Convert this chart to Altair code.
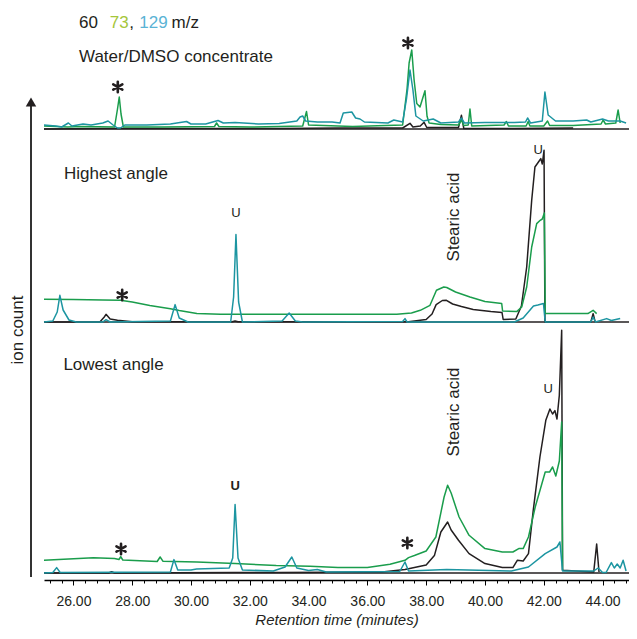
import altair as alt
import pandas as pd

# ---------------- data (heights above each panel's baseline) ----------------
TOP_BLACK_T = [25.0, 27.0, 30.0, 33.0, 35.0, 37.2, 37.45, 37.55, 37.8, 37.93, 38.02, 39.1, 39.2, 39.28, 41.0, 43.0, 45.0]
TOP_BLACK_V = [0, 0.5, 0.5, 0.5, 1, 1, 5.7, 2, 3, 6.7, 1.5, 1.5, 13.7, 0.5, 0.5, 1, 1.5]

TOP_GREEN_T = [25.0, 25.8, 26.3, 27.4, 27.5, 27.56, 27.62, 27.7, 29.0, 30.8, 30.87, 30.95, 32.0, 33.8, 33.93, 34.0,
               34.5, 35.5, 37.2, 37.35, 37.42, 37.51, 37.59, 37.68, 37.79, 37.96, 38.03, 38.1, 38.5, 39.1, 39.2, 39.28,
               39.43, 39.49, 39.55, 40.65, 40.73, 40.8, 41.4, 41.47, 41.53, 42.0, 42.13, 42.2, 43.0, 43.95, 44.02,
               44.1, 44.45, 44.53, 44.6, 45.0]
TOP_GREEN_V = [3, 2, 2.5, 2, 20, 32, 15, 2, 2, 2.5, 6, 2.5, 2, 3, 17.5, 4,
               3.5, 2.5, 4, 40, 66, 79, 49, 25.5, 22, 38.3, 12.7, 6, 4.5, 4, 9, 3.5,
               4, 20, 3, 4, 7.5, 3, 3, 7.5, 3, 3, 8, 3.5, 3.5, 5, 9,
               5, 6, 19, 6, 6]

TOP_TEAL_T = [25.0, 25.4, 25.6, 25.83, 25.95, 26.33, 26.6, 27.0, 27.18, 27.35, 27.5, 27.6, 27.75, 28.5, 29.3, 29.85,
              30.0, 30.5, 30.92, 31.1, 31.5, 32.3, 33.0, 33.6, 33.71, 33.8, 33.9, 34.3, 34.8, 35.07, 35.18, 35.47,
              35.6, 35.75, 35.9, 36.7, 36.9, 37.2, 37.33, 37.45, 37.55, 37.65, 37.9, 38.24, 38.5, 39.1, 39.2, 39.3,
              40.0, 41.0, 41.38, 41.45, 41.55, 41.95, 42.04, 42.15, 42.4, 43.0, 43.46, 43.6, 44.0, 44.2, 44.6, 44.8,
              45.0]
TOP_TEAL_V = [4, 3, 2, 6, 3, 5, 4, 6, 8, 4, 1, 1, 4, 4, 5, 7.5,
              5, 5, 8.5, 6, 6.5, 5, 5.5, 8, 12, 13, 8, 7, 7, 6, 16, 17,
              11, 10, 7, 6, 9, 7, 30, 59, 39, 13, 8, 10, 6, 7, 11, 6,
              6.5, 6.5, 7, 11, 6, 8, 37, 14, 8, 8, 9, 7, 10, 8, 8, 6,
              15]

MID_BLACK_T = [25.0, 26.9, 27.05, 27.11, 27.25, 27.5, 28.0, 31.4, 31.5, 31.6, 37.4, 37.6, 38.0, 38.2, 38.34, 38.55,
               38.69, 38.9, 39.2, 39.6, 40.2, 40.58, 40.62, 41.05, 41.24, 41.42, 41.59, 41.7, 41.82, 41.9, 41.95,
               42.01, 42.04, 43.6, 43.68, 43.75, 45.0]
MID_BLACK_V = [0, 0, 5, 7.7, 3, 1.7, 0.3, 0.3, 1, 0.3, 0.3, 1, 2.5, 8, 17.4, 21.5,
               21.7, 18, 15.5, 12.5, 10.5, 9.5, 2.5, 3, 16, 55, 121.7, 155, 160, 163.4, 158,
               171.7, 0, 0, 8.4, 0, 0]

MID_GREEN_T = [25.0, 26.0, 27.0, 27.6, 28.0, 28.6, 29.3, 29.6, 30.2, 31.0, 37.0, 37.5, 37.8, 38.13, 38.35, 38.6,
               38.7, 39.0, 39.49, 40.0, 40.57, 40.6, 41.08, 41.25, 41.42, 41.59, 41.76, 41.88, 41.95, 42.02, 42.05,
               43.5, 43.68, 43.8, 45.0]
MID_GREEN_V = [22.7, 22.5, 22, 21.7, 20, 16.5, 13.3, 11.5, 8.4, 7.7, 7.7, 9, 11.7, 16.7, 31.7, 35,
               34.5, 30, 25, 20.5, 18.4, 11, 10.4, 15, 35, 75, 98.4, 101.7, 103, 109, 8.4,
               8.4, 11.7, 8.4, 8.4]

MID_TEAL_T = [25.0, 25.3, 25.45, 25.54, 25.65, 25.85, 26.1, 27.0, 27.11, 27.25, 29.3, 29.46, 29.6, 29.9, 31.35,
              31.45, 31.53, 31.62, 31.75, 33.1, 33.34, 33.55, 33.8, 37.2, 37.28, 37.35, 41.0, 41.3, 41.65, 41.8,
              41.99, 42.05, 43.6, 43.68, 43.76, 44.14, 44.3, 44.6, 45.0]
MID_TEAL_V = [0, 1, 10, 26.7, 12, 2, 0, 0, 2.3, 0, 1, 17.4, 4, 0, 0,
              25, 87.4, 20, 0, 1, 9, 1, 0, 0.5, 3.4, 0, 0, 4, 16, 17,
              18.4, 0, 0, 5, 0, 3.4, 1.5, 3.4, 0]

BOT_BLACK_T = [25.0, 27.2, 27.3, 27.4, 31.5, 33.0, 36.5, 37.28, 37.6, 38.0, 38.28, 38.5, 38.73, 38.85, 39.1, 39.46,
               40.0, 40.59, 40.95, 41.1, 41.3, 41.48, 41.64, 41.87, 42.07, 42.21, 42.3, 42.38, 42.45, 42.53, 42.61,
               42.64, 43.7, 43.8, 43.88, 45.0]
BOT_BLACK_V = [0, 0, 1.3, 0, 0.5, 0.5, 1, 3.4, 5.5, 8, 17.4, 41, 51, 43, 32.7, 19.4,
               9.4, 5.4, 5.4, 12.7, 12, 19.4, 62, 116, 152.7, 164, 159, 162.4, 154, 177.7, 242.7,
               2.7, 1, 29, 1, 0]

BOT_GREEN_T = [25.0, 26.68, 27.4, 27.55, 27.61, 27.68, 28.85, 28.95, 29.05, 30.2, 31.5, 32.9, 34.05, 35.0, 36.0,
               36.77, 37.28, 37.4, 37.6, 38.0, 38.33, 38.61, 38.73, 38.85, 39.12, 39.46, 40.0, 40.59, 40.95, 41.15,
               41.3, 41.48, 41.71, 42.05, 42.2, 42.3, 42.41, 42.53, 42.61, 42.64, 45.0]
BOT_GREEN_V = [12.7, 15.3, 14.5, 13.5, 16.4, 13, 11.5, 16, 11.7, 11, 9.4, 7.5, 6.7, 5.4, 5.5,
               8.7, 12.7, 15.4, 17.5, 22, 36, 76, 87.7, 80, 56, 37.7, 24.4, 21, 21, 24.4,
               24.4, 36, 66, 101, 101, 106, 97, 112, 151, 2.7, 3.4]

BOT_TEAL_T = [25.0, 25.3, 25.43, 25.55, 29.3, 29.42, 29.55, 30.0, 30.19, 31.3, 31.42, 31.5, 31.6, 31.75, 32.8, 33.2,
              33.43, 33.6, 34.0, 34.3, 34.6, 37.1, 37.28, 37.4, 38.7, 40.9, 41.48, 42.05, 42.45, 42.55, 42.64,
              43.7, 43.85, 44.0, 44.12, 44.3, 44.4, 44.5, 44.6, 44.7, 44.8, 45.0]
BOT_TEAL_V = [0, 0.5, 5.4, 0.5, 1, 13.4, 3, 3, 4, 5, 15, 68.4, 15, 3, 2, 6,
              16, 5, 2.5, 3.5, 1, 1.5, 11, 2, 3.4, 2, 6, 19.4, 26, 31, 2,
              2, 5, 0.5, 0.5, 10.4, 5, 9, 5, 12.7, 2, 2]

PANEL_OFFSET = {"top": 451, "mid": 258, "bot": 7}

BLACK = "#231f20"
GREEN = "#1a9d4c"
TEAL = "#1c95a1"

X_MIN, X_MAX = 25.0, 44.9

# ---------------- build tables ----------------
def trace(ts, vs, panel, series):
    rows = [(t, v) for t, v in zip(ts, vs) if t <= X_MAX]
    return pd.DataFrame({"t": [r[0] for r in rows], "y": [r[1] + PANEL_OFFSET[panel] for r in rows],
                         "key": panel + "_" + series, "series": series})

traces = pd.concat([
    trace(TOP_BLACK_T, TOP_BLACK_V, "top", "60"),
    trace(MID_BLACK_T, MID_BLACK_V, "mid", "60"),
    trace(BOT_BLACK_T, BOT_BLACK_V, "bot", "60"),
    trace(TOP_GREEN_T, TOP_GREEN_V, "top", "73"),
    trace(MID_GREEN_T, MID_GREEN_V, "mid", "73"),
    trace(BOT_GREEN_T, BOT_GREEN_V, "bot", "73"),
    trace(TOP_TEAL_T, TOP_TEAL_V, "top", "129"),
    trace(MID_TEAL_T, MID_TEAL_V, "mid", "129"),
    trace(BOT_TEAL_T, BOT_TEAL_V, "bot", "129"),
], ignore_index=True)

baselines = pd.DataFrame({"t": [X_MIN, X_MAX] * 3,
                          "y": [PANEL_OFFSET["top"]] * 2 + [PANEL_OFFSET["mid"]] * 2 + [PANEL_OFFSET["bot"]] * 2,
                          "key": ["top", "top", "mid", "mid", "bot", "bot"]})

STAR_T = [27.51, 37.38, 27.66, 27.62, 37.36]
STAR_Y = [493, 537, 285, 31, 37]

U_T = [31.53, 41.81, 31.5, 42.15]
U_Y = [367, 430, 94, 191]
U_W = ["normal", "normal", "bold", "normal"]

SA_T = [38.95, 38.96]
SA_Y = [363, 168]

PANEL_LABELS = ["Water/DMSO concentrate", "Highest angle", "Lowest angle"]
PANEL_LABEL_T = [26.19, 25.68, 25.66]
PANEL_LABEL_Y = [523, 406, 215]

LEG_TEXT = ["60", "73", ",", "129", "m/z"]
LEG_T = [26.19, 27.24, 27.9, 28.24, 29.34]
LEG_COLOR = [BLACK, "#a5c63b", BLACK, "#5ab3d5", BLACK]
LEG_Y = 557

TICKS = [round(25.2 + 0.4 * k, 1) for k in range(50)]
MAJOR = "abs(datum.value - 2*round(datum.value/2)) < 0.01"

FONT = "Liberation Sans"

xenc = alt.X("t:Q", scale=alt.Scale(domain=[X_MIN, X_MAX], nice=False, zero=False),
             axis=alt.Axis(values=TICKS, labelExpr=f"{MAJOR} ? format(datum.value, '.2f') : ''",
                           tickSize={"condition": {"test": MAJOR, "value": 5}, "value": 3},
                           labelOverlap=False, labelFlush=False, grid=False,
                           domainColor="#000000", domainWidth=1.6, tickColor="#000000", tickWidth=1,
                           labelFont=FONT, labelFontSize=14, labelColor=BLACK, labelPadding=9,
                           titleFont=FONT, titleFontSize=15, titleFontStyle="italic", titleFontWeight="normal",
                           titleColor=BLACK, titlePadding=4),
             title="Retention time (minutes)")
yenc = alt.Y("y:Q", scale=alt.Scale(domain=[0, 572], nice=False, zero=False), axis=None)

base_lines = alt.Chart(baselines).mark_line(color=BLACK, strokeWidth=1.3).encode(x=xenc, y=yenc, detail="key:N")

def series_layer(s, col):
    return alt.Chart(traces[traces.series == s]).mark_line(color=col, strokeWidth=1.5, strokeJoin="round").encode(
        x=xenc, y=yenc, detail="key:N", order="t:Q")

lines = [series_layer("60", BLACK), series_layer("73", GREEN), series_layer("129", TEAL)]

ASTERISK = "M0,-1L0,1M-0.87,-0.5L0.87,0.5M-0.87,0.5L0.87,-0.5"
stars = alt.Chart(pd.DataFrame({"t": STAR_T, "y": STAR_Y})).mark_point(
    shape=ASTERISK, size=110, stroke=BLACK, strokeWidth=2.6, filled=False, opacity=1, strokeCap="round").encode(
    x=xenc, y=yenc)

u_df = pd.DataFrame({"t": U_T, "y": U_Y, "w": U_W})
u_norm = alt.Chart(u_df[u_df.w == "normal"]).mark_text(font=FONT, fontSize=13, color=BLACK, baseline="middle").encode(
    x=xenc, y=yenc, text=alt.value("U"))
u_bold = alt.Chart(u_df[u_df.w == "bold"]).mark_text(font=FONT, fontSize=13, fontWeight="bold", color=BLACK,
                                                      baseline="middle").encode(x=xenc, y=yenc, text=alt.value("U"))

stearic = alt.Chart(pd.DataFrame({"t": SA_T, "y": SA_Y})).mark_text(
    font=FONT, fontSize=17, color=BLACK, angle=270, baseline="middle", align="center").encode(
    x=xenc, y=yenc, text=alt.value("Stearic acid"))

panel_txt = alt.Chart(pd.DataFrame({"t": PANEL_LABEL_T, "y": PANEL_LABEL_Y, "label": PANEL_LABELS})).mark_text(
    font=FONT, fontSize=17, color=BLACK, align="left", baseline="middle").encode(x=xenc, y=yenc, text="label:N")

legend_txt = alt.Chart(pd.DataFrame({"t": LEG_T, "y": [LEG_Y] * 5, "label": LEG_TEXT, "c": LEG_COLOR})).mark_text(
    font=FONT, fontSize=17, align="left", baseline="middle").encode(
    x=xenc, y=yenc, text="label:N", color=alt.Color("c:N", scale=None))

one = pd.DataFrame({"a": [0]})
arrow_shaft = alt.Chart(one).mark_rule(color="#333333", strokeWidth=2).encode(
    x=alt.value(-13), y=alt.value(96), y2=alt.value(569))
arrow_head = alt.Chart(one).mark_point(shape="triangle-up", filled=True, color="#231f20", size=110, opacity=1).encode(
    x=alt.value(-13), y=alt.value(94))
ion_label = alt.Chart(one).mark_text(font=FONT, fontSize=17, color=BLACK, angle=270, align="center",
                                     baseline="middle").encode(
    x=alt.value(-26), y=alt.value(322), text=alt.value("ion count"))

chart = alt.layer(
    base_lines, *lines, stars, u_norm, u_bold, stearic, panel_txt, legend_txt, arrow_shaft, arrow_head, ion_label
).properties(
    width=585, height=572,
    background="white",
    autosize=alt.AutoSizeParams(type="none"),
    padding={"left": 36, "top": 0, "right": 0, "bottom": 51},
).configure_view(strokeWidth=0, stroke="transparent")

chart.save("out.html", embed_options={"renderer": "svg", "actions": False})
